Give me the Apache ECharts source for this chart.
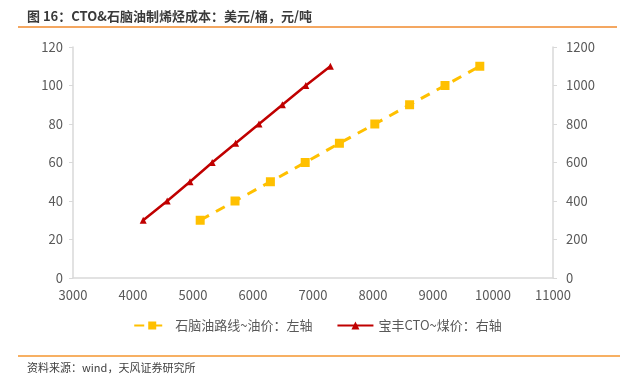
<!DOCTYPE html>
<html>
<head>
<meta charset="utf-8">
<script src="https://cdn.jsdelivr.net/npm/echarts@6/dist/echarts.min.js"></script>
<style>
    html, body {margin: 0; padding: 0; background: #fff;}
    #main {width: 635px; height: 379px;}
</style>
</head>
<body>
<div id="main"></div>
<script>
// 石脑油路线~油价（左轴）：x=成本，y=油价
var naphthaX = [5120, 5700, 6290, 6870, 7440, 8030, 8610, 9200, 9780];
var naphthaY = [30, 40, 50, 60, 70, 80, 90, 100, 110];
// 宝丰CTO~煤价（右轴）
var ctoX = [4170, 4570, 4950, 5320, 5710, 6100, 6490, 6880, 7290];
var ctoY = [300, 400, 500, 600, 700, 800, 900, 1000, 1100];

var seriesNames = ['石脑油路线~油价：左轴', '宝丰CTO~煤价：右轴'];
var titleText = '图 16：CTO&石脑油制烯烃成本：美元/桶，元/吨';
var sourceText = '资料来源：wind，天风证券研究所';

function pairs(xs, ys) {
    return xs.map(function (x, i) { return [x, ys[i]]; });
}

(function () {
    var font = '"Noto Sans CJK SC", "Noto Sans", sans-serif';
    var chart = echarts.init(document.getElementById('main'));
    // 去掉千分位逗号
    var axisLabel = {
        color: '#595959', fontSize: 13, fontFamily: font,
        formatter: function (v) { return String(v); }
    };
    var option = {
        backgroundColor: '#fff',
        animation: false,
        title: {
            text: titleText,
            left: 22,
            top: 5,
            textStyle: {fontSize: 13, fontWeight: 'bold', color: '#3a3a3a', fontFamily: font}
        },
        graphic: [
            {   // 标题下橙线
                type: 'line',
                shape: {x1: 18, y1: 27, x2: 617, y2: 27},
                style: {stroke: '#f08a2c', lineWidth: 1.5}
            },
            {   // 底部橙线
                type: 'line',
                shape: {x1: 18, y1: 356, x2: 620, y2: 356},
                style: {stroke: '#f5962f', lineWidth: 1.5}
            },
            {
                type: 'text',
                left: 27,
                top: 362,
                style: {text: sourceText, fill: '#404040', fontSize: 11, fontFamily: font}
            }
        ],
        grid: {left: 73, right: 82, top: 47, bottom: 101},
        legend: {
            bottom: 42,
            left: 'center',
            itemWidth: 36,
            itemHeight: 10,
            itemGap: 24,
            textStyle: {color: '#595959', fontSize: 13, fontFamily: font},
            data: seriesNames
        },
        xAxis: {
            type: 'value',
            min: 3000,
            max: 11000,
            interval: 1000,
            axisLine: {show: true, lineStyle: {color: '#d9d9d9', width: 1.5}},
            axisTick: {show: false},
            splitLine: {show: false},
            axisLabel: Object.assign({margin: 11}, axisLabel)
        },
        yAxis: [
            {
                type: 'value',
                min: 0,
                max: 120,
                interval: 20,
                axisLine: {show: true, lineStyle: {color: '#d9d9d9', width: 1.5}},
                axisTick: {show: true, length: 4, lineStyle: {color: '#d9d9d9'}},
                splitLine: {show: false},
                axisLabel: Object.assign({margin: 10}, axisLabel)
            },
            {
                type: 'value',
                min: 0,
                max: 1200,
                interval: 200,
                position: 'right',
                axisLine: {show: true, lineStyle: {color: '#d9d9d9', width: 1.5}},
                axisTick: {show: true, length: 4, lineStyle: {color: '#d9d9d9'}},
                splitLine: {show: false},
                axisLabel: Object.assign({margin: 13}, axisLabel)
            }
        ],
        series: [
            {
                name: seriesNames[0],
                type: 'line',
                yAxisIndex: 0,
                symbol: 'rect',
                symbolSize: 9,
                itemStyle: {color: '#ffc000'},
                lineStyle: {color: '#ffc000', width: 3, type: [10, 8]},
                data: pairs(naphthaX, naphthaY)
            },
            {
                name: seriesNames[1],
                type: 'line',
                yAxisIndex: 1,
                symbol: 'triangle',
                symbolSize: 7,
                itemStyle: {color: '#c00000'},
                lineStyle: {color: '#c00000', width: 2.5},
                data: pairs(ctoX, ctoY)
            }
        ]
    };
    chart.setOption(option);
}());
</script>
</body>
</html>
